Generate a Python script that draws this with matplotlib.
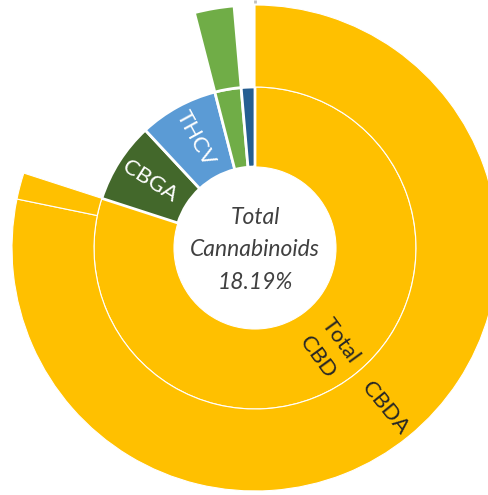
import numpy as np
import matplotlib
matplotlib.use('Agg')
import matplotlib.pyplot as plt

# inner ring (parents), clockwise from 12 o'clock
inner_labels = ['Total\nCBD', 'CBGA', 'THCV', 'Total THC', 'CBN']
inner_values = [14.55, 1.47, 1.44, 0.48, 0.25]
inner_colors = ['#FFC000', '#43682B', '#5B9BD5', '#70AD47', '#255E91']
inner_text_colors = ['#262626', 'white', 'white', None, None]

# outer ring (children); parents without children get an empty slot
outer_labels = ['CBDA', 'CBD', '', '', 'THCA', '']
outer_values = [14.23, 0.32, 1.47, 1.44, 0.48, 0.25]
outer_colors = ['#FFC000', '#FFC000', 'none', 'none', '#70AD47', 'none']
outer_text_colors = ['#262626', None, None, None, None, None]

center_label = 'Total\nCannabinoids\n18.19%'

# geometry in pixels
W, H = 489, 495
CX, CY = 255, 248          # centre, measured from top-left
R_HOLE, R_MID, R_OUT = 81, 161, 243

plt.rcParams['font.family'] = ['Lato', 'DejaVu Sans']

fig = plt.figure(figsize=(W / 100, H / 100), dpi=100)
ax = fig.add_axes([0, 0, 1, 1])

kw = dict(startangle=90, counterclock=False)
w_in, _ = ax.pie(inner_values, radius=R_MID, colors=inner_colors,
                 wedgeprops=dict(width=R_MID - R_HOLE, edgecolor='white'), **kw)
w_out, _ = ax.pie(outer_values, radius=R_OUT, colors=outer_colors,
                  wedgeprops=dict(width=R_OUT - R_MID, edgecolor='white'), **kw)

for wedges, colors in ((w_in, inner_colors), (w_out, outer_colors)):
    for w, c in zip(wedges, colors):
        if c == 'none':
            w.set_edgecolor('none')
        elif c == '#FFC000':
            w.set_linewidth(0.8)
        else:
            w.set_linewidth(2.0)


def _label(wedge, text, color, r):
    mid = (wedge.theta1 + wedge.theta2) / 2
    x, y = r * np.cos(np.radians(mid)), r * np.sin(np.radians(mid))
    rot = mid if np.cos(np.radians(mid)) > 0 else mid + 180
    rot = (rot + 180) % 360 - 180
    ax.text(x, y, text, color=color, fontsize=16, rotation=rot,
            rotation_mode='anchor', ha='center', va='center', linespacing=1.5)


for w, t, c in zip(w_in, inner_labels, inner_text_colors):
    if c:
        _label(w, t, c, (R_HOLE + R_MID) / 2 + 4)
for w, t, c in zip(w_out, outer_labels, outer_text_colors):
    if c:
        _label(w, t, c, (R_MID + R_OUT) / 2 + 4)

ax.text(0, -2, center_label, ha='center', va='center', fontsize=16.5,
        style='italic', color='#404040', linespacing=1.68)

# cropped leader line at the top
ax.plot([0, 0], [R_OUT + 2, CY], color='#BFBFBF', lw=2, solid_capstyle='butt')

ax.set_xlim(-CX, W - CX)
ax.set_ylim(-(H - CY), CY)
ax.set_aspect('equal')
ax.axis('off')

plt.savefig('out.png', dpi=100)
plt.close()
